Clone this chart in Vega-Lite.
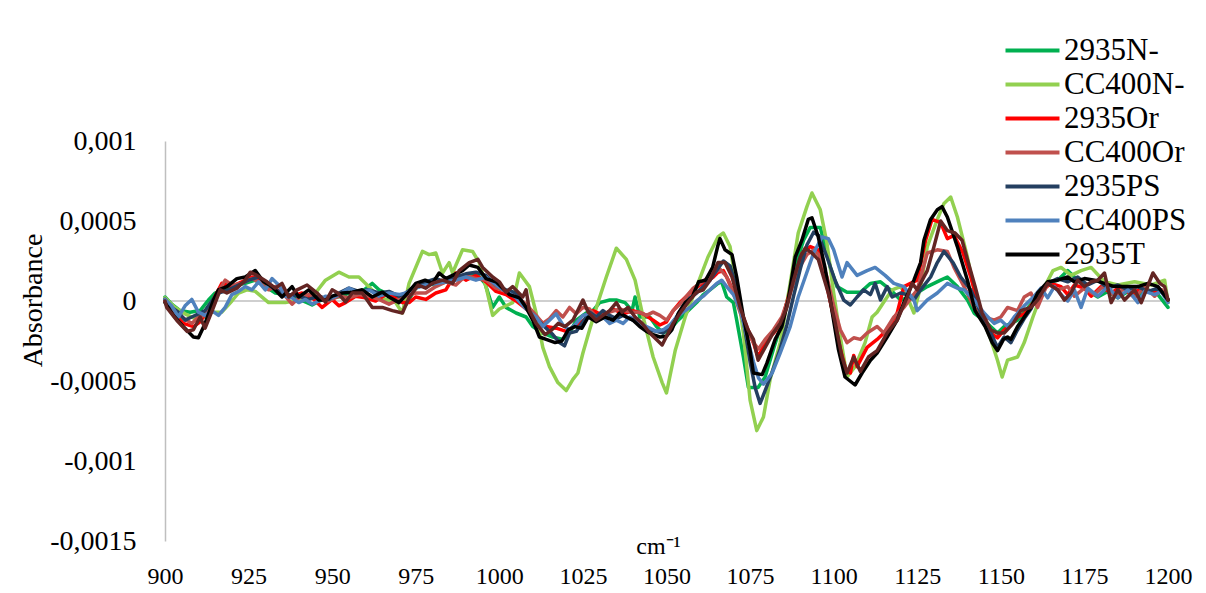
{
"$schema":"https://vega.github.io/schema/vega-lite/v6.json",
"width":1003,"height":400,
"autosize":{"type":"none"},
"padding":{"left":165,"top":141,"right":38,"bottom":52},
"background":"white",
"config":{"view":{"stroke":null},"font":"Liberation Serif"},
"layer":[
{"data":{"values":[{"y":0}]},"mark":{"type":"rule","color":"#bfbfbf","strokeWidth":1.5},"encoding":{"y":{"field":"y","type":"quantitative","scale":{"domain":[-0.0015,0.001]}}}},
{"data":{"values":[
{"x":900,"s":"2935N-","y":0.25e-4},{"x":902,"s":"2935N-","y":-0.2e-4},{"x":904.5,"s":"2935N-","y":-0.6e-4},{"x":907.5,"s":"2935N-","y":-0.7e-4},{"x":910.5,"s":"2935N-","y":-0.6e-4},{"x":913,"s":"2935N-","y":0.06e-4},{"x":915,"s":"2935N-","y":0.5e-4},{"x":918,"s":"2935N-","y":0.8e-4},{"x":921,"s":"2935N-","y":1.0e-4},{"x":924,"s":"2935N-","y":1.1e-4},{"x":927,"s":"2935N-","y":1.3e-4},{"x":930,"s":"2935N-","y":0.9e-4},{"x":933,"s":"2935N-","y":0.5e-4},{"x":936,"s":"2935N-","y":0.4e-4},{"x":939,"s":"2935N-","y":0.2e-4},{"x":942.5,"s":"2935N-","y":-0.1e-4},{"x":944,"s":"2935N-","y":-0.25e-4},{"x":947,"s":"2935N-","y":0.1e-4},{"x":950,"s":"2935N-","y":0.2e-4},{"x":953,"s":"2935N-","y":0.3e-4},{"x":956,"s":"2935N-","y":0.6e-4},{"x":959,"s":"2935N-","y":0.6e-4},{"x":962,"s":"2935N-","y":1.1e-4},{"x":964,"s":"2935N-","y":0.7e-4},{"x":967,"s":"2935N-","y":0.4e-4},{"x":970,"s":"2935N-","y":0.1e-4},{"x":972,"s":"2935N-","y":-0.25e-4},{"x":975,"s":"2935N-","y":0.8e-4},{"x":978,"s":"2935N-","y":1.1e-4},{"x":981,"s":"2935N-","y":1.0e-4},{"x":984,"s":"2935N-","y":1.2e-4},{"x":987,"s":"2935N-","y":1.5e-4},{"x":990,"s":"2935N-","y":1.6e-4},{"x":993,"s":"2935N-","y":1.75e-4},{"x":995.7,"s":"2935N-","y":1.1e-4},{"x":998,"s":"2935N-","y":-0.4e-4},{"x":1000,"s":"2935N-","y":0.25e-4},{"x":1002,"s":"2935N-","y":-0.4e-4},{"x":1005,"s":"2935N-","y":-0.75e-4},{"x":1008,"s":"2935N-","y":-1.0e-4},{"x":1010,"s":"2935N-","y":-1.6e-4},{"x":1013,"s":"2935N-","y":-2.0e-4},{"x":1016,"s":"2935N-","y":-2.25e-4},{"x":1019,"s":"2935N-","y":-2.4e-4},{"x":1021,"s":"2935N-","y":-2.0e-4},{"x":1023,"s":"2935N-","y":-1.2e-4},{"x":1026,"s":"2935N-","y":-0.75e-4},{"x":1028,"s":"2935N-","y":-0.6e-4},{"x":1030,"s":"2935N-","y":-0.1e-4},{"x":1033,"s":"2935N-","y":0.06e-4},{"x":1035,"s":"2935N-","y":0.06e-4},{"x":1037.6,"s":"2935N-","y":-0.1e-4},{"x":1039.7,"s":"2935N-","y":-0.6e-4},{"x":1040.6,"s":"2935N-","y":0.25e-4},{"x":1042,"s":"2935N-","y":-1.0e-4},{"x":1045,"s":"2935N-","y":-1.0e-4},{"x":1047,"s":"2935N-","y":-1.6e-4},{"x":1049,"s":"2935N-","y":-2.0e-4},{"x":1051,"s":"2935N-","y":-1.8e-4},{"x":1053,"s":"2935N-","y":-1.3e-4},{"x":1055,"s":"2935N-","y":-0.9e-4},{"x":1057,"s":"2935N-","y":-0.5e-4},{"x":1059,"s":"2935N-","y":-0.1e-4},{"x":1061,"s":"2935N-","y":0.4e-4},{"x":1063,"s":"2935N-","y":0.7e-4},{"x":1065.4,"s":"2935N-","y":1.1e-4},{"x":1066.5,"s":"2935N-","y":1.2e-4},{"x":1068,"s":"2935N-","y":0.25e-4},{"x":1070,"s":"2935N-","y":-0.1e-4},{"x":1071,"s":"2935N-","y":-1.2e-4},{"x":1073,"s":"2935N-","y":-3.5e-4},{"x":1074.5,"s":"2935N-","y":-5.4e-4},{"x":1077.4,"s":"2935N-","y":-5.4e-4},{"x":1079.5,"s":"2935N-","y":-4.75e-4},{"x":1082,"s":"2935N-","y":-3.0e-4},{"x":1085,"s":"2935N-","y":-1.0e-4},{"x":1087,"s":"2935N-","y":0.8e-4},{"x":1089,"s":"2935N-","y":2.5e-4},{"x":1091,"s":"2935N-","y":3.8e-4},{"x":1093,"s":"2935N-","y":4.6e-4},{"x":1096,"s":"2935N-","y":4.6e-4},{"x":1099,"s":"2935N-","y":2.1e-4},{"x":1101,"s":"2935N-","y":0.9e-4},{"x":1104,"s":"2935N-","y":0.55e-4},{"x":1108,"s":"2935N-","y":0.55e-4},{"x":1111,"s":"2935N-","y":1.1e-4},{"x":1114,"s":"2935N-","y":1.2e-4},{"x":1117,"s":"2935N-","y":0.7e-4},{"x":1120,"s":"2935N-","y":0.06e-4},{"x":1123,"s":"2935N-","y":0.25e-4},{"x":1128,"s":"2935N-","y":0.9e-4},{"x":1132,"s":"2935N-","y":1.3e-4},{"x":1134,"s":"2935N-","y":1.5e-4},{"x":1137,"s":"2935N-","y":0.9e-4},{"x":1140,"s":"2935N-","y":0.06e-4},{"x":1142,"s":"2935N-","y":-0.75e-4},{"x":1146,"s":"2935N-","y":-1.4e-4},{"x":1149,"s":"2935N-","y":-2.0e-4},{"x":1151,"s":"2935N-","y":-1.6e-4},{"x":1155,"s":"2935N-","y":-1.2e-4},{"x":1160,"s":"2935N-","y":0.06e-4},{"x":1164,"s":"2935N-","y":1.1e-4},{"x":1167,"s":"2935N-","y":1.3e-4},{"x":1170,"s":"2935N-","y":1.9e-4},{"x":1173,"s":"2935N-","y":1.3e-4},{"x":1177,"s":"2935N-","y":0.5e-4},{"x":1179,"s":"2935N-","y":0.25e-4},{"x":1182,"s":"2935N-","y":0.6e-4},{"x":1185,"s":"2935N-","y":0.2e-4},{"x":1188,"s":"2935N-","y":0.6e-4},{"x":1191,"s":"2935N-","y":0.3e-4},{"x":1194,"s":"2935N-","y":0.7e-4},{"x":1197,"s":"2935N-","y":0.4e-4},{"x":1200,"s":"2935N-","y":-0.4e-4},
{"x":900,"s":"CC400N-","y":0.2e-4},{"x":903,"s":"CC400N-","y":-0.4e-4},{"x":906,"s":"CC400N-","y":-0.8e-4},{"x":909,"s":"CC400N-","y":-1.1e-4},{"x":912,"s":"CC400N-","y":-1.0e-4},{"x":914,"s":"CC400N-","y":-0.7e-4},{"x":917,"s":"CC400N-","y":-0.7e-4},{"x":920,"s":"CC400N-","y":0.0e-4},{"x":922,"s":"CC400N-","y":0.5e-4},{"x":924.5,"s":"CC400N-","y":0.7e-4},{"x":927,"s":"CC400N-","y":0.6e-4},{"x":931,"s":"CC400N-","y":-0.1e-4},{"x":936,"s":"CC400N-","y":-0.1e-4},{"x":940,"s":"CC400N-","y":0.06e-4},{"x":945,"s":"CC400N-","y":0.5e-4},{"x":948,"s":"CC400N-","y":1.3e-4},{"x":952,"s":"CC400N-","y":1.8e-4},{"x":955,"s":"CC400N-","y":1.5e-4},{"x":958,"s":"CC400N-","y":1.5e-4},{"x":960,"s":"CC400N-","y":1.1e-4},{"x":964,"s":"CC400N-","y":0.25e-4},{"x":969,"s":"CC400N-","y":-0.1e-4},{"x":971,"s":"CC400N-","y":-0.75e-4},{"x":973,"s":"CC400N-","y":1.1e-4},{"x":977,"s":"CC400N-","y":3.1e-4},{"x":979,"s":"CC400N-","y":2.9e-4},{"x":981,"s":"CC400N-","y":3.0e-4},{"x":983,"s":"CC400N-","y":1.75e-4},{"x":985,"s":"CC400N-","y":2.4e-4},{"x":986,"s":"CC400N-","y":1.75e-4},{"x":989,"s":"CC400N-","y":3.2e-4},{"x":992,"s":"CC400N-","y":3.1e-4},{"x":994,"s":"CC400N-","y":2.4e-4},{"x":996,"s":"CC400N-","y":0.9e-4},{"x":998,"s":"CC400N-","y":-0.9e-4},{"x":1000,"s":"CC400N-","y":-0.5e-4},{"x":1004,"s":"CC400N-","y":-0.1e-4},{"x":1006,"s":"CC400N-","y":1.75e-4},{"x":1009,"s":"CC400N-","y":0.9e-4},{"x":1011,"s":"CC400N-","y":-0.75e-4},{"x":1013,"s":"CC400N-","y":-2.9e-4},{"x":1015,"s":"CC400N-","y":-4.1e-4},{"x":1017.5,"s":"CC400N-","y":-5.1e-4},{"x":1020,"s":"CC400N-","y":-5.6e-4},{"x":1022,"s":"CC400N-","y":-4.9e-4},{"x":1023.5,"s":"CC400N-","y":-4.5e-4},{"x":1025,"s":"CC400N-","y":-3.25e-4},{"x":1027,"s":"CC400N-","y":-1.8e-4},{"x":1029.5,"s":"CC400N-","y":-0.1e-4},{"x":1032,"s":"CC400N-","y":1.5e-4},{"x":1035,"s":"CC400N-","y":3.3e-4},{"x":1038,"s":"CC400N-","y":2.6e-4},{"x":1040.6,"s":"CC400N-","y":1.3e-4},{"x":1043,"s":"CC400N-","y":-1.0e-4},{"x":1046,"s":"CC400N-","y":-3.5e-4},{"x":1048.7,"s":"CC400N-","y":-5.1e-4},{"x":1050,"s":"CC400N-","y":-5.75e-4},{"x":1052.6,"s":"CC400N-","y":-3.1e-4},{"x":1055.6,"s":"CC400N-","y":-1.0e-4},{"x":1059.4,"s":"CC400N-","y":1.1e-4},{"x":1062.4,"s":"CC400N-","y":2.75e-4},{"x":1065.4,"s":"CC400N-","y":4.0e-4},{"x":1067,"s":"CC400N-","y":4.25e-4},{"x":1069,"s":"CC400N-","y":3.4e-4},{"x":1071,"s":"CC400N-","y":0.9e-4},{"x":1073,"s":"CC400N-","y":-2.0e-4},{"x":1075,"s":"CC400N-","y":-6.2e-4},{"x":1077,"s":"CC400N-","y":-8.1e-4},{"x":1079,"s":"CC400N-","y":-7.25e-4},{"x":1081,"s":"CC400N-","y":-4.9e-4},{"x":1084,"s":"CC400N-","y":-2.6e-4},{"x":1087,"s":"CC400N-","y":1.1e-4},{"x":1089.4,"s":"CC400N-","y":4.25e-4},{"x":1092,"s":"CC400N-","y":5.9e-4},{"x":1093.5,"s":"CC400N-","y":6.75e-4},{"x":1096,"s":"CC400N-","y":5.7e-4},{"x":1098,"s":"CC400N-","y":3.6e-4},{"x":1100,"s":"CC400N-","y":0.5e-4},{"x":1102,"s":"CC400N-","y":-2.25e-4},{"x":1104,"s":"CC400N-","y":-4.75e-4},{"x":1106.4,"s":"CC400N-","y":-4.1e-4},{"x":1109.4,"s":"CC400N-","y":-2.6e-4},{"x":1111.5,"s":"CC400N-","y":-1.0e-4},{"x":1113,"s":"CC400N-","y":-0.7e-4},{"x":1115.4,"s":"CC400N-","y":0.06e-4},{"x":1117.5,"s":"CC400N-","y":0.7e-4},{"x":1120,"s":"CC400N-","y":0.9e-4},{"x":1122,"s":"CC400N-","y":0.25e-4},{"x":1124,"s":"CC400N-","y":-0.75e-4},{"x":1126,"s":"CC400N-","y":0.9e-4},{"x":1128,"s":"CC400N-","y":3.4e-4},{"x":1131,"s":"CC400N-","y":5.1e-4},{"x":1133,"s":"CC400N-","y":6.1e-4},{"x":1135,"s":"CC400N-","y":6.5e-4},{"x":1137,"s":"CC400N-","y":5.25e-4},{"x":1140,"s":"CC400N-","y":2.75e-4},{"x":1142,"s":"CC400N-","y":0.7e-4},{"x":1144.4,"s":"CC400N-","y":-1.0e-4},{"x":1147,"s":"CC400N-","y":-2.4e-4},{"x":1149,"s":"CC400N-","y":-3.7e-4},{"x":1150.4,"s":"CC400N-","y":-4.75e-4},{"x":1152,"s":"CC400N-","y":-3.7e-4},{"x":1155,"s":"CC400N-","y":-3.5e-4},{"x":1157,"s":"CC400N-","y":-2.6e-4},{"x":1159.6,"s":"CC400N-","y":-1.0e-4},{"x":1162.6,"s":"CC400N-","y":0.7e-4},{"x":1165.6,"s":"CC400N-","y":1.9e-4},{"x":1168,"s":"CC400N-","y":2.1e-4},{"x":1171,"s":"CC400N-","y":1.6e-4},{"x":1174,"s":"CC400N-","y":1.9e-4},{"x":1177,"s":"CC400N-","y":2.1e-4},{"x":1181,"s":"CC400N-","y":1.2e-4},{"x":1185,"s":"CC400N-","y":1.0e-4},{"x":1190,"s":"CC400N-","y":1.2e-4},{"x":1195,"s":"CC400N-","y":1.0e-4},{"x":1199,"s":"CC400N-","y":1.3e-4},{"x":1200,"s":"CC400N-","y":-0.1e-4},
{"x":900,"s":"2935Or","y":0.0e-4},{"x":902,"s":"2935Or","y":-0.6e-4},{"x":905.5,"s":"2935Or","y":-1.4e-4},{"x":908.5,"s":"2935Or","y":-1.6e-4},{"x":910.5,"s":"2935Or","y":-1.3e-4},{"x":913,"s":"2935Or","y":-0.5e-4},{"x":915,"s":"2935Or","y":0.3e-4},{"x":917,"s":"2935Or","y":1.1e-4},{"x":920,"s":"2935Or","y":0.9e-4},{"x":923,"s":"2935Or","y":1.2e-4},{"x":926,"s":"2935Or","y":1.5e-4},{"x":929,"s":"2935Or","y":1.3e-4},{"x":932,"s":"2935Or","y":0.9e-4},{"x":935,"s":"2935Or","y":0.5e-4},{"x":938,"s":"2935Or","y":0.3e-4},{"x":941,"s":"2935Or","y":0.5e-4},{"x":944,"s":"2935Or","y":0.2e-4},{"x":947,"s":"2935Or","y":-0.4e-4},{"x":950,"s":"2935Or","y":0.1e-4},{"x":952,"s":"2935Or","y":-0.3e-4},{"x":954,"s":"2935Or","y":-0.1e-4},{"x":957,"s":"2935Or","y":0.3e-4},{"x":960,"s":"2935Or","y":0.2e-4},{"x":963,"s":"2935Or","y":0.0e-4},{"x":966,"s":"2935Or","y":0.4e-4},{"x":968,"s":"2935Or","y":0.3e-4},{"x":971,"s":"2935Or","y":-0.1e-4},{"x":973,"s":"2935Or","y":-0.1e-4},{"x":975,"s":"2935Or","y":0.25e-4},{"x":978,"s":"2935Or","y":0.1e-4},{"x":981,"s":"2935Or","y":0.5e-4},{"x":984,"s":"2935Or","y":0.7e-4},{"x":987,"s":"2935Or","y":1.75e-4},{"x":990,"s":"2935Or","y":1.3e-4},{"x":993,"s":"2935Or","y":1.6e-4},{"x":996,"s":"2935Or","y":1.2e-4},{"x":999,"s":"2935Or","y":0.6e-4},{"x":1002,"s":"2935Or","y":0.4e-4},{"x":1005,"s":"2935Or","y":0.0e-4},{"x":1008,"s":"2935Or","y":-0.5e-4},{"x":1011,"s":"2935Or","y":-1.0e-4},{"x":1014,"s":"2935Or","y":-1.6e-4},{"x":1017,"s":"2935Or","y":-1.7e-4},{"x":1020,"s":"2935Or","y":-1.9e-4},{"x":1023,"s":"2935Or","y":-1.5e-4},{"x":1026,"s":"2935Or","y":-1.1e-4},{"x":1028,"s":"2935Or","y":-0.6e-4},{"x":1031,"s":"2935Or","y":-0.9e-4},{"x":1034,"s":"2935Or","y":-0.5e-4},{"x":1037,"s":"2935Or","y":-0.8e-4},{"x":1040,"s":"2935Or","y":-0.6e-4},{"x":1043,"s":"2935Or","y":-0.8e-4},{"x":1046,"s":"2935Or","y":-1.2e-4},{"x":1048,"s":"2935Or","y":-1.5e-4},{"x":1050,"s":"2935Or","y":-1.3e-4},{"x":1052,"s":"2935Or","y":-0.6e-4},{"x":1054,"s":"2935Or","y":-0.1e-4},{"x":1056,"s":"2935Or","y":0.3e-4},{"x":1058,"s":"2935Or","y":0.7e-4},{"x":1060,"s":"2935Or","y":1.0e-4},{"x":1062,"s":"2935Or","y":1.2e-4},{"x":1064,"s":"2935Or","y":1.5e-4},{"x":1065.4,"s":"2935Or","y":1.8e-4},{"x":1067,"s":"2935Or","y":1.9e-4},{"x":1068.5,"s":"2935Or","y":1.3e-4},{"x":1071,"s":"2935Or","y":0.06e-4},{"x":1074,"s":"2935Or","y":-1.6e-4},{"x":1076,"s":"2935Or","y":-2.6e-4},{"x":1077.4,"s":"2935Or","y":-3.5e-4},{"x":1079.5,"s":"2935Or","y":-2.6e-4},{"x":1082.5,"s":"2935Or","y":-1.9e-4},{"x":1084.5,"s":"2935Or","y":-1.2e-4},{"x":1087.6,"s":"2935Or","y":1.1e-4},{"x":1090.6,"s":"2935Or","y":3.0e-4},{"x":1093,"s":"2935Or","y":3.4e-4},{"x":1095.4,"s":"2935Or","y":3.2e-4},{"x":1098,"s":"2935Or","y":0.9e-4},{"x":1100,"s":"2935Or","y":-1.0e-4},{"x":1102,"s":"2935Or","y":-3.0e-4},{"x":1103.5,"s":"2935Or","y":-4.2e-4},{"x":1105,"s":"2935Or","y":-4.5e-4},{"x":1106,"s":"2935Or","y":-3.4e-4},{"x":1107,"s":"2935Or","y":-4.1e-4},{"x":1110,"s":"2935Or","y":-2.9e-4},{"x":1113,"s":"2935Or","y":-2.4e-4},{"x":1116,"s":"2935Or","y":-1.8e-4},{"x":1119,"s":"2935Or","y":-0.75e-4},{"x":1121,"s":"2935Or","y":0.9e-4},{"x":1125,"s":"2935Or","y":1.3e-4},{"x":1127.5,"s":"2935Or","y":3.8e-4},{"x":1129.4,"s":"2935Or","y":5.1e-4},{"x":1132,"s":"2935Or","y":4.9e-4},{"x":1134,"s":"2935Or","y":3.9e-4},{"x":1136,"s":"2935Or","y":4.1e-4},{"x":1138.7,"s":"2935Or","y":3.0e-4},{"x":1141,"s":"2935Or","y":1.5e-4},{"x":1143,"s":"2935Or","y":0.0e-4},{"x":1145,"s":"2935Or","y":-1.2e-4},{"x":1147,"s":"2935Or","y":-2.0e-4},{"x":1149,"s":"2935Or","y":-2.3e-4},{"x":1151,"s":"2935Or","y":-1.8e-4},{"x":1153,"s":"2935Or","y":-1.5e-4},{"x":1155,"s":"2935Or","y":-1.0e-4},{"x":1157,"s":"2935Or","y":-0.8e-4},{"x":1159,"s":"2935Or","y":-0.3e-4},{"x":1162,"s":"2935Or","y":0.6e-4},{"x":1165,"s":"2935Or","y":1.1e-4},{"x":1168,"s":"2935Or","y":0.9e-4},{"x":1170,"s":"2935Or","y":0.4e-4},{"x":1172,"s":"2935Or","y":1.0e-4},{"x":1175,"s":"2935Or","y":0.8e-4},{"x":1177,"s":"2935Or","y":0.3e-4},{"x":1180,"s":"2935Or","y":0.9e-4},{"x":1183,"s":"2935Or","y":0.5e-4},{"x":1186,"s":"2935Or","y":0.9e-4},{"x":1189,"s":"2935Or","y":0.4e-4},{"x":1192,"s":"2935Or","y":0.8e-4},{"x":1195,"s":"2935Or","y":0.5e-4},{"x":1198,"s":"2935Or","y":0.7e-4},{"x":1200,"s":"2935Or","y":0.1e-4},
{"x":900,"s":"CC400Or","y":0.1e-4},{"x":902,"s":"CC400Or","y":-0.5e-4},{"x":905,"s":"CC400Or","y":-1.0e-4},{"x":908,"s":"CC400Or","y":-1.4e-4},{"x":910,"s":"CC400Or","y":-1.0e-4},{"x":912,"s":"CC400Or","y":-0.9e-4},{"x":914,"s":"CC400Or","y":-0.2e-4},{"x":916,"s":"CC400Or","y":0.6e-4},{"x":918,"s":"CC400Or","y":1.3e-4},{"x":920,"s":"CC400Or","y":1.0e-4},{"x":923,"s":"CC400Or","y":1.1e-4},{"x":926,"s":"CC400Or","y":1.4e-4},{"x":928,"s":"CC400Or","y":1.2e-4},{"x":931,"s":"CC400Or","y":0.7e-4},{"x":934,"s":"CC400Or","y":1.0e-4},{"x":936,"s":"CC400Or","y":0.3e-4},{"x":938,"s":"CC400Or","y":-0.2e-4},{"x":940,"s":"CC400Or","y":0.2e-4},{"x":943,"s":"CC400Or","y":0.4e-4},{"x":946,"s":"CC400Or","y":0.2e-4},{"x":949,"s":"CC400Or","y":0.0e-4},{"x":952,"s":"CC400Or","y":0.3e-4},{"x":955,"s":"CC400Or","y":0.2e-4},{"x":958,"s":"CC400Or","y":0.4e-4},{"x":961,"s":"CC400Or","y":0.3e-4},{"x":964,"s":"CC400Or","y":0.1e-4},{"x":967,"s":"CC400Or","y":-0.2e-4},{"x":970,"s":"CC400Or","y":0.1e-4},{"x":972,"s":"CC400Or","y":0.3e-4},{"x":975,"s":"CC400Or","y":0.5e-4},{"x":978,"s":"CC400Or","y":0.5e-4},{"x":981,"s":"CC400Or","y":0.9e-4},{"x":984,"s":"CC400Or","y":1.2e-4},{"x":987,"s":"CC400Or","y":1.0e-4},{"x":990,"s":"CC400Or","y":1.6e-4},{"x":993,"s":"CC400Or","y":1.4e-4},{"x":996,"s":"CC400Or","y":1.3e-4},{"x":999,"s":"CC400Or","y":0.8e-4},{"x":1002,"s":"CC400Or","y":0.6e-4},{"x":1005,"s":"CC400Or","y":0.3e-4},{"x":1008,"s":"CC400Or","y":-0.2e-4},{"x":1011,"s":"CC400Or","y":-0.9e-4},{"x":1013,"s":"CC400Or","y":-1.4e-4},{"x":1015,"s":"CC400Or","y":-1.1e-4},{"x":1017,"s":"CC400Or","y":-0.6e-4},{"x":1019,"s":"CC400Or","y":-1.0e-4},{"x":1021,"s":"CC400Or","y":-0.4e-4},{"x":1023,"s":"CC400Or","y":-0.8e-4},{"x":1025,"s":"CC400Or","y":-0.4e-4},{"x":1027,"s":"CC400Or","y":-0.5e-4},{"x":1029,"s":"CC400Or","y":-1.0e-4},{"x":1031,"s":"CC400Or","y":-0.9e-4},{"x":1033,"s":"CC400Or","y":-0.7e-4},{"x":1036,"s":"CC400Or","y":-0.5e-4},{"x":1039,"s":"CC400Or","y":-0.7e-4},{"x":1042,"s":"CC400Or","y":-0.7e-4},{"x":1044,"s":"CC400Or","y":-0.9e-4},{"x":1046,"s":"CC400Or","y":-0.7e-4},{"x":1048,"s":"CC400Or","y":-0.9e-4},{"x":1050,"s":"CC400Or","y":-1.2e-4},{"x":1052,"s":"CC400Or","y":-0.6e-4},{"x":1054,"s":"CC400Or","y":-0.2e-4},{"x":1056,"s":"CC400Or","y":0.3e-4},{"x":1058,"s":"CC400Or","y":0.8e-4},{"x":1060,"s":"CC400Or","y":1.1e-4},{"x":1062,"s":"CC400Or","y":1.4e-4},{"x":1064,"s":"CC400Or","y":1.7e-4},{"x":1066,"s":"CC400Or","y":2.0e-4},{"x":1068,"s":"CC400Or","y":1.5e-4},{"x":1070,"s":"CC400Or","y":0.5e-4},{"x":1072,"s":"CC400Or","y":-0.7e-4},{"x":1074,"s":"CC400Or","y":-1.8e-4},{"x":1076,"s":"CC400Or","y":-2.6e-4},{"x":1077.5,"s":"CC400Or","y":-3.0e-4},{"x":1079.5,"s":"CC400Or","y":-2.4e-4},{"x":1082,"s":"CC400Or","y":-1.8e-4},{"x":1084.5,"s":"CC400Or","y":-1.0e-4},{"x":1087,"s":"CC400Or","y":0.5e-4},{"x":1089.5,"s":"CC400Or","y":2.0e-4},{"x":1092,"s":"CC400Or","y":2.9e-4},{"x":1094,"s":"CC400Or","y":3.2e-4},{"x":1096,"s":"CC400Or","y":2.8e-4},{"x":1098,"s":"CC400Or","y":1.5e-4},{"x":1100,"s":"CC400Or","y":-0.3e-4},{"x":1102,"s":"CC400Or","y":-1.8e-4},{"x":1104,"s":"CC400Or","y":-2.6e-4},{"x":1106,"s":"CC400Or","y":-2.3e-4},{"x":1108,"s":"CC400Or","y":-2.4e-4},{"x":1110,"s":"CC400Or","y":-2.0e-4},{"x":1113,"s":"CC400Or","y":-1.6e-4},{"x":1115,"s":"CC400Or","y":-2.0e-4},{"x":1118,"s":"CC400Or","y":-1.0e-4},{"x":1121,"s":"CC400Or","y":-0.4e-4},{"x":1125,"s":"CC400Or","y":0.7e-4},{"x":1128,"s":"CC400Or","y":3.0e-4},{"x":1131,"s":"CC400Or","y":3.2e-4},{"x":1134,"s":"CC400Or","y":3.1e-4},{"x":1136,"s":"CC400Or","y":2.1e-4},{"x":1139,"s":"CC400Or","y":0.9e-4},{"x":1142,"s":"CC400Or","y":-0.4e-4},{"x":1145,"s":"CC400Or","y":-1.0e-4},{"x":1148,"s":"CC400Or","y":-1.2e-4},{"x":1150,"s":"CC400Or","y":-1.0e-4},{"x":1152,"s":"CC400Or","y":-0.4e-4},{"x":1155,"s":"CC400Or","y":-0.6e-4},{"x":1157,"s":"CC400Or","y":0.25e-4},{"x":1159,"s":"CC400Or","y":0.5e-4},{"x":1161,"s":"CC400Or","y":-0.4e-4},{"x":1164,"s":"CC400Or","y":1.1e-4},{"x":1167,"s":"CC400Or","y":0.7e-4},{"x":1170,"s":"CC400Or","y":0.9e-4},{"x":1172,"s":"CC400Or","y":0.3e-4},{"x":1175,"s":"CC400Or","y":0.8e-4},{"x":1178,"s":"CC400Or","y":0.4e-4},{"x":1181,"s":"CC400Or","y":1.0e-4},{"x":1184,"s":"CC400Or","y":0.3e-4},{"x":1187,"s":"CC400Or","y":0.8e-4},{"x":1190,"s":"CC400Or","y":0.2e-4},{"x":1193,"s":"CC400Or","y":0.9e-4},{"x":1196,"s":"CC400Or","y":0.3e-4},{"x":1198,"s":"CC400Or","y":0.7e-4},{"x":1200,"s":"CC400Or","y":0.1e-4},
{"x":900,"s":"2935PS","y":0.1e-4},{"x":902,"s":"2935PS","y":-0.4e-4},{"x":904,"s":"2935PS","y":-0.7e-4},{"x":906,"s":"2935PS","y":-1.2e-4},{"x":908,"s":"2935PS","y":-1.0e-4},{"x":910,"s":"2935PS","y":-0.8e-4},{"x":912,"s":"2935PS","y":-0.6e-4},{"x":914,"s":"2935PS","y":0.0e-4},{"x":916,"s":"2935PS","y":0.5e-4},{"x":919,"s":"2935PS","y":0.7e-4},{"x":922,"s":"2935PS","y":1.0e-4},{"x":925,"s":"2935PS","y":1.3e-4},{"x":928,"s":"2935PS","y":1.5e-4},{"x":931,"s":"2935PS","y":1.0e-4},{"x":934,"s":"2935PS","y":0.6e-4},{"x":937,"s":"2935PS","y":0.4e-4},{"x":940,"s":"2935PS","y":0.3e-4},{"x":943,"s":"2935PS","y":0.1e-4},{"x":946,"s":"2935PS","y":0.3e-4},{"x":949,"s":"2935PS","y":0.1e-4},{"x":952,"s":"2935PS","y":0.5e-4},{"x":955,"s":"2935PS","y":0.8e-4},{"x":958,"s":"2935PS","y":0.6e-4},{"x":961,"s":"2935PS","y":0.7e-4},{"x":964,"s":"2935PS","y":0.5e-4},{"x":967,"s":"2935PS","y":0.6e-4},{"x":970,"s":"2935PS","y":0.3e-4},{"x":972,"s":"2935PS","y":0.5e-4},{"x":975,"s":"2935PS","y":1.0e-4},{"x":978,"s":"2935PS","y":1.2e-4},{"x":981,"s":"2935PS","y":1.4e-4},{"x":984,"s":"2935PS","y":1.2e-4},{"x":987,"s":"2935PS","y":1.5e-4},{"x":990,"s":"2935PS","y":1.7e-4},{"x":993,"s":"2935PS","y":1.8e-4},{"x":996,"s":"2935PS","y":1.6e-4},{"x":999,"s":"2935PS","y":1.0e-4},{"x":1002,"s":"2935PS","y":0.7e-4},{"x":1005,"s":"2935PS","y":0.5e-4},{"x":1008,"s":"2935PS","y":-0.4e-4},{"x":1011,"s":"2935PS","y":-1.1e-4},{"x":1014,"s":"2935PS","y":-1.7e-4},{"x":1016,"s":"2935PS","y":-2.1e-4},{"x":1018,"s":"2935PS","y":-2.6e-4},{"x":1019.5,"s":"2935PS","y":-2.8e-4},{"x":1021,"s":"2935PS","y":-2.0e-4},{"x":1023,"s":"2935PS","y":-1.9e-4},{"x":1025,"s":"2935PS","y":-1.3e-4},{"x":1027,"s":"2935PS","y":-0.7e-4},{"x":1029,"s":"2935PS","y":-1.0e-4},{"x":1031,"s":"2935PS","y":-0.6e-4},{"x":1033,"s":"2935PS","y":-0.9e-4},{"x":1035,"s":"2935PS","y":-1.1e-4},{"x":1037,"s":"2935PS","y":-0.9e-4},{"x":1039,"s":"2935PS","y":-1.1e-4},{"x":1041,"s":"2935PS","y":-1.3e-4},{"x":1043,"s":"2935PS","y":-1.5e-4},{"x":1045,"s":"2935PS","y":-1.8e-4},{"x":1047,"s":"2935PS","y":-1.9e-4},{"x":1049,"s":"2935PS","y":-2.0e-4},{"x":1051,"s":"2935PS","y":-1.6e-4},{"x":1053,"s":"2935PS","y":-1.0e-4},{"x":1055,"s":"2935PS","y":-0.3e-4},{"x":1057,"s":"2935PS","y":0.2e-4},{"x":1059,"s":"2935PS","y":0.5e-4},{"x":1061,"s":"2935PS","y":0.9e-4},{"x":1063,"s":"2935PS","y":1.3e-4},{"x":1065,"s":"2935PS","y":1.9e-4},{"x":1067,"s":"2935PS","y":2.5e-4},{"x":1069,"s":"2935PS","y":2.2e-4},{"x":1071,"s":"2935PS","y":0.8e-4},{"x":1073,"s":"2935PS","y":-1.2e-4},{"x":1075,"s":"2935PS","y":-3.8e-4},{"x":1076.5,"s":"2935PS","y":-5.4e-4},{"x":1078,"s":"2935PS","y":-6.4e-4},{"x":1079.5,"s":"2935PS","y":-5.6e-4},{"x":1081.5,"s":"2935PS","y":-4.5e-4},{"x":1084,"s":"2935PS","y":-3.0e-4},{"x":1086,"s":"2935PS","y":-1.5e-4},{"x":1088,"s":"2935PS","y":0.3e-4},{"x":1090,"s":"2935PS","y":2.0e-4},{"x":1092,"s":"2935PS","y":3.5e-4},{"x":1094,"s":"2935PS","y":4.3e-4},{"x":1095.5,"s":"2935PS","y":4.1e-4},{"x":1098,"s":"2935PS","y":2.75e-4},{"x":1100.4,"s":"2935PS","y":1.3e-4},{"x":1103,"s":"2935PS","y":0.06e-4},{"x":1105,"s":"2935PS","y":-0.25e-4},{"x":1107,"s":"2935PS","y":0.25e-4},{"x":1109,"s":"2935PS","y":0.7e-4},{"x":1111,"s":"2935PS","y":0.4e-4},{"x":1112.4,"s":"2935PS","y":1.1e-4},{"x":1114,"s":"2935PS","y":0.06e-4},{"x":1116,"s":"2935PS","y":0.9e-4},{"x":1117.5,"s":"2935PS","y":0.25e-4},{"x":1120,"s":"2935PS","y":0.5e-4},{"x":1122,"s":"2935PS","y":0.4e-4},{"x":1124,"s":"2935PS","y":0.06e-4},{"x":1126,"s":"2935PS","y":0.7e-4},{"x":1129,"s":"2935PS","y":1.5e-4},{"x":1131,"s":"2935PS","y":2.4e-4},{"x":1133,"s":"2935PS","y":3.1e-4},{"x":1135.7,"s":"2935PS","y":2.4e-4},{"x":1138,"s":"2935PS","y":1.5e-4},{"x":1141,"s":"2935PS","y":0.7e-4},{"x":1144,"s":"2935PS","y":-0.75e-4},{"x":1147,"s":"2935PS","y":-2.0e-4},{"x":1149,"s":"2935PS","y":-2.9e-4},{"x":1151,"s":"2935PS","y":-2.25e-4},{"x":1153,"s":"2935PS","y":-2.6e-4},{"x":1155,"s":"2935PS","y":-1.8e-4},{"x":1157,"s":"2935PS","y":-1.1e-4},{"x":1159,"s":"2935PS","y":-0.5e-4},{"x":1161,"s":"2935PS","y":0.4e-4},{"x":1164,"s":"2935PS","y":1.1e-4},{"x":1167,"s":"2935PS","y":1.4e-4},{"x":1170,"s":"2935PS","y":1.2e-4},{"x":1173,"s":"2935PS","y":1.5e-4},{"x":1176,"s":"2935PS","y":1.0e-4},{"x":1179,"s":"2935PS","y":1.3e-4},{"x":1182,"s":"2935PS","y":0.8e-4},{"x":1185,"s":"2935PS","y":1.0e-4},{"x":1188,"s":"2935PS","y":0.7e-4},{"x":1191,"s":"2935PS","y":0.9e-4},{"x":1194,"s":"2935PS","y":0.6e-4},{"x":1197,"s":"2935PS","y":0.8e-4},{"x":1200,"s":"2935PS","y":0.1e-4},
{"x":900,"s":"CC400PS","y":0.1e-4},{"x":902,"s":"CC400PS","y":-0.3e-4},{"x":904,"s":"CC400PS","y":-1.0e-4},{"x":906,"s":"CC400PS","y":-0.3e-4},{"x":908,"s":"CC400PS","y":0.1e-4},{"x":910,"s":"CC400PS","y":-0.7e-4},{"x":912,"s":"CC400PS","y":-0.9e-4},{"x":914,"s":"CC400PS","y":-0.6e-4},{"x":916,"s":"CC400PS","y":-0.9e-4},{"x":918,"s":"CC400PS","y":-0.4e-4},{"x":920,"s":"CC400PS","y":0.4e-4},{"x":922,"s":"CC400PS","y":0.6e-4},{"x":924,"s":"CC400PS","y":0.9e-4},{"x":926,"s":"CC400PS","y":0.7e-4},{"x":928,"s":"CC400PS","y":1.2e-4},{"x":930,"s":"CC400PS","y":0.7e-4},{"x":932,"s":"CC400PS","y":1.4e-4},{"x":934,"s":"CC400PS","y":1.0e-4},{"x":936,"s":"CC400PS","y":0.3e-4},{"x":938,"s":"CC400PS","y":0.2e-4},{"x":940,"s":"CC400PS","y":-0.1e-4},{"x":942,"s":"CC400PS","y":0.1e-4},{"x":944,"s":"CC400PS","y":-0.2e-4},{"x":946,"s":"CC400PS","y":0.0e-4},{"x":948,"s":"CC400PS","y":0.3e-4},{"x":950,"s":"CC400PS","y":0.2e-4},{"x":952,"s":"CC400PS","y":0.4e-4},{"x":955,"s":"CC400PS","y":0.8e-4},{"x":958,"s":"CC400PS","y":0.5e-4},{"x":961,"s":"CC400PS","y":0.7e-4},{"x":964,"s":"CC400PS","y":0.3e-4},{"x":967,"s":"CC400PS","y":0.5e-4},{"x":970,"s":"CC400PS","y":0.4e-4},{"x":972,"s":"CC400PS","y":0.5e-4},{"x":975,"s":"CC400PS","y":0.8e-4},{"x":978,"s":"CC400PS","y":1.0e-4},{"x":981,"s":"CC400PS","y":1.1e-4},{"x":984,"s":"CC400PS","y":1.2e-4},{"x":987,"s":"CC400PS","y":1.3e-4},{"x":990,"s":"CC400PS","y":1.5e-4},{"x":993,"s":"CC400PS","y":1.3e-4},{"x":996,"s":"CC400PS","y":1.5e-4},{"x":999,"s":"CC400PS","y":1.0e-4},{"x":1002,"s":"CC400PS","y":0.6e-4},{"x":1005,"s":"CC400PS","y":0.2e-4},{"x":1008,"s":"CC400PS","y":-0.5e-4},{"x":1011,"s":"CC400PS","y":-1.0e-4},{"x":1013,"s":"CC400PS","y":-1.6e-4},{"x":1015,"s":"CC400PS","y":-1.2e-4},{"x":1017,"s":"CC400PS","y":-0.8e-4},{"x":1019,"s":"CC400PS","y":-1.5e-4},{"x":1021,"s":"CC400PS","y":-1.8e-4},{"x":1023,"s":"CC400PS","y":-1.4e-4},{"x":1025,"s":"CC400PS","y":-0.9e-4},{"x":1027,"s":"CC400PS","y":-0.8e-4},{"x":1029,"s":"CC400PS","y":-1.2e-4},{"x":1031,"s":"CC400PS","y":-1.0e-4},{"x":1033,"s":"CC400PS","y":-1.4e-4},{"x":1035,"s":"CC400PS","y":-1.2e-4},{"x":1037,"s":"CC400PS","y":-1.4e-4},{"x":1039,"s":"CC400PS","y":-1.0e-4},{"x":1041,"s":"CC400PS","y":-1.2e-4},{"x":1043,"s":"CC400PS","y":-1.5e-4},{"x":1045,"s":"CC400PS","y":-1.7e-4},{"x":1047,"s":"CC400PS","y":-1.9e-4},{"x":1049,"s":"CC400PS","y":-1.8e-4},{"x":1051,"s":"CC400PS","y":-1.5e-4},{"x":1053,"s":"CC400PS","y":-1.0e-4},{"x":1055,"s":"CC400PS","y":-0.7e-4},{"x":1057,"s":"CC400PS","y":-0.4e-4},{"x":1059,"s":"CC400PS","y":0.0e-4},{"x":1061,"s":"CC400PS","y":0.3e-4},{"x":1063,"s":"CC400PS","y":0.7e-4},{"x":1065,"s":"CC400PS","y":1.1e-4},{"x":1066.5,"s":"CC400PS","y":1.3e-4},{"x":1068,"s":"CC400PS","y":0.9e-4},{"x":1070,"s":"CC400PS","y":0.4e-4},{"x":1072,"s":"CC400PS","y":-0.5e-4},{"x":1074,"s":"CC400PS","y":-2.2e-4},{"x":1076,"s":"CC400PS","y":-3.8e-4},{"x":1077.5,"s":"CC400PS","y":-4.8e-4},{"x":1079,"s":"CC400PS","y":-5.2e-4},{"x":1081.6,"s":"CC400PS","y":-4.5e-4},{"x":1084,"s":"CC400PS","y":-3.25e-4},{"x":1087,"s":"CC400PS","y":-1.6e-4},{"x":1089.4,"s":"CC400PS","y":0.25e-4},{"x":1091.5,"s":"CC400PS","y":1.5e-4},{"x":1094,"s":"CC400PS","y":3.0e-4},{"x":1096.5,"s":"CC400PS","y":4.0e-4},{"x":1098.4,"s":"CC400PS","y":3.9e-4},{"x":1100,"s":"CC400PS","y":3.2e-4},{"x":1102.5,"s":"CC400PS","y":1.5e-4},{"x":1104,"s":"CC400PS","y":2.4e-4},{"x":1107,"s":"CC400PS","y":1.6e-4},{"x":1110,"s":"CC400PS","y":1.9e-4},{"x":1112.4,"s":"CC400PS","y":2.1e-4},{"x":1115.4,"s":"CC400PS","y":1.6e-4},{"x":1118,"s":"CC400PS","y":1.1e-4},{"x":1121,"s":"CC400PS","y":0.9e-4},{"x":1124,"s":"CC400PS","y":0.06e-4},{"x":1125,"s":"CC400PS","y":-0.6e-4},{"x":1128,"s":"CC400PS","y":0.06e-4},{"x":1131,"s":"CC400PS","y":0.5e-4},{"x":1134,"s":"CC400PS","y":1.1e-4},{"x":1137,"s":"CC400PS","y":0.8e-4},{"x":1139,"s":"CC400PS","y":0.7e-4},{"x":1142,"s":"CC400PS","y":0.06e-4},{"x":1145,"s":"CC400PS","y":-0.75e-4},{"x":1148,"s":"CC400PS","y":-1.4e-4},{"x":1150,"s":"CC400PS","y":-1.2e-4},{"x":1152,"s":"CC400PS","y":-1.6e-4},{"x":1154,"s":"CC400PS","y":-1.0e-4},{"x":1157,"s":"CC400PS","y":-0.3e-4},{"x":1160,"s":"CC400PS","y":0.3e-4},{"x":1162,"s":"CC400PS","y":0.8e-4},{"x":1164,"s":"CC400PS","y":0.2e-4},{"x":1166,"s":"CC400PS","y":0.9e-4},{"x":1168,"s":"CC400PS","y":0.4e-4},{"x":1170,"s":"CC400PS","y":0.0e-4},{"x":1172,"s":"CC400PS","y":0.7e-4},{"x":1174,"s":"CC400PS","y":-0.4e-4},{"x":1176,"s":"CC400PS","y":0.8e-4},{"x":1179,"s":"CC400PS","y":0.3e-4},{"x":1182,"s":"CC400PS","y":0.9e-4},{"x":1185,"s":"CC400PS","y":0.2e-4},{"x":1188,"s":"CC400PS","y":0.7e-4},{"x":1191,"s":"CC400PS","y":-0.1e-4},{"x":1193,"s":"CC400PS","y":0.6e-4},{"x":1196,"s":"CC400PS","y":0.4e-4},{"x":1198,"s":"CC400PS","y":0.6e-4},{"x":1200,"s":"CC400PS","y":-0.1e-4},
{"x":900,"s":"2935T","y":-0.1e-4},{"x":902.5,"s":"2935T","y":-0.9e-4},{"x":905.5,"s":"2935T","y":-1.6e-4},{"x":908.5,"s":"2935T","y":-2.25e-4},{"x":910,"s":"2935T","y":-2.3e-4},{"x":912,"s":"2935T","y":-1.4e-4},{"x":914.5,"s":"2935T","y":0.06e-4},{"x":916,"s":"2935T","y":0.7e-4},{"x":918.5,"s":"2935T","y":0.9e-4},{"x":921.5,"s":"2935T","y":1.4e-4},{"x":924,"s":"2935T","y":1.5e-4},{"x":927,"s":"2935T","y":1.9e-4},{"x":929.5,"s":"2935T","y":1.2e-4},{"x":932,"s":"2935T","y":0.9e-4},{"x":935,"s":"2935T","y":0.25e-4},{"x":938,"s":"2935T","y":0.9e-4},{"x":940,"s":"2935T","y":0.25e-4},{"x":943,"s":"2935T","y":0.7e-4},{"x":946,"s":"2935T","y":0.06e-4},{"x":948,"s":"2935T","y":0.06e-4},{"x":950,"s":"2935T","y":0.3e-4},{"x":953,"s":"2935T","y":0.5e-4},{"x":956,"s":"2935T","y":0.55e-4},{"x":959,"s":"2935T","y":0.7e-4},{"x":962,"s":"2935T","y":0.25e-4},{"x":965,"s":"2935T","y":0.55e-4},{"x":967,"s":"2935T","y":0.25e-4},{"x":970,"s":"2935T","y":-0.1e-4},{"x":972.6,"s":"2935T","y":0.5e-4},{"x":975,"s":"2935T","y":1.1e-4},{"x":977.8,"s":"2935T","y":1.3e-4},{"x":980,"s":"2935T","y":1.1e-4},{"x":982,"s":"2935T","y":1.75e-4},{"x":984,"s":"2935T","y":1.4e-4},{"x":986,"s":"2935T","y":1.6e-4},{"x":989,"s":"2935T","y":1.9e-4},{"x":991,"s":"2935T","y":2.25e-4},{"x":993.6,"s":"2935T","y":2.1e-4},{"x":996,"s":"2935T","y":1.4e-4},{"x":999,"s":"2935T","y":1.2e-4},{"x":1001,"s":"2935T","y":0.8e-4},{"x":1003,"s":"2935T","y":0.4e-4},{"x":1006,"s":"2935T","y":0.2e-4},{"x":1008,"s":"2935T","y":-0.4e-4},{"x":1010,"s":"2935T","y":-1.2e-4},{"x":1012,"s":"2935T","y":-2.25e-4},{"x":1014,"s":"2935T","y":-2.4e-4},{"x":1016.7,"s":"2935T","y":-2.6e-4},{"x":1018.7,"s":"2935T","y":-2.5e-4},{"x":1020.6,"s":"2935T","y":-1.8e-4},{"x":1022.6,"s":"2935T","y":-1.6e-4},{"x":1024.7,"s":"2935T","y":-1.7e-4},{"x":1026.6,"s":"2935T","y":-1.0e-4},{"x":1029,"s":"2935T","y":-1.3e-4},{"x":1031.6,"s":"2935T","y":-1.0e-4},{"x":1034,"s":"2935T","y":-1.2e-4},{"x":1036,"s":"2935T","y":-0.75e-4},{"x":1038,"s":"2935T","y":-1.0e-4},{"x":1040,"s":"2935T","y":-1.2e-4},{"x":1042,"s":"2935T","y":-1.6e-4},{"x":1044,"s":"2935T","y":-1.9e-4},{"x":1046,"s":"2935T","y":-2.1e-4},{"x":1048,"s":"2935T","y":-2.25e-4},{"x":1050,"s":"2935T","y":-2.2e-4},{"x":1051.6,"s":"2935T","y":-1.8e-4},{"x":1053.6,"s":"2935T","y":-0.75e-4},{"x":1055.6,"s":"2935T","y":-0.1e-4},{"x":1057.7,"s":"2935T","y":0.25e-4},{"x":1059.6,"s":"2935T","y":1.2e-4},{"x":1061.7,"s":"2935T","y":1.3e-4},{"x":1063.8,"s":"2935T","y":2.1e-4},{"x":1065.3,"s":"2935T","y":3.4e-4},{"x":1066,"s":"2935T","y":3.9e-4},{"x":1067.5,"s":"2935T","y":3.2e-4},{"x":1069.6,"s":"2935T","y":2.9e-4},{"x":1071,"s":"2935T","y":1.5e-4},{"x":1073,"s":"2935T","y":-1.0e-4},{"x":1075,"s":"2935T","y":-3.1e-4},{"x":1076,"s":"2935T","y":-4.5e-4},{"x":1078.6,"s":"2935T","y":-4.6e-4},{"x":1080,"s":"2935T","y":-3.9e-4},{"x":1082.5,"s":"2935T","y":-2.4e-4},{"x":1084.5,"s":"2935T","y":-1.6e-4},{"x":1086.4,"s":"2935T","y":0.06e-4},{"x":1088.5,"s":"2935T","y":2.75e-4},{"x":1090.5,"s":"2935T","y":3.8e-4},{"x":1092.4,"s":"2935T","y":5.1e-4},{"x":1093.5,"s":"2935T","y":5.2e-4},{"x":1095.4,"s":"2935T","y":4.0e-4},{"x":1097.4,"s":"2935T","y":2.1e-4},{"x":1099.5,"s":"2935T","y":-0.6e-4},{"x":1101.4,"s":"2935T","y":-3.0e-4},{"x":1103.4,"s":"2935T","y":-4.75e-4},{"x":1106.4,"s":"2935T","y":-5.25e-4},{"x":1108.5,"s":"2935T","y":-4.5e-4},{"x":1111,"s":"2935T","y":-3.7e-4},{"x":1113,"s":"2935T","y":-3.25e-4},{"x":1116,"s":"2935T","y":-2.25e-4},{"x":1119,"s":"2935T","y":-1.2e-4},{"x":1121,"s":"2935T","y":-0.1e-4},{"x":1124,"s":"2935T","y":1.3e-4},{"x":1126,"s":"2935T","y":2.4e-4},{"x":1127,"s":"2935T","y":3.8e-4},{"x":1129,"s":"2935T","y":5.1e-4},{"x":1131,"s":"2935T","y":5.7e-4},{"x":1132.4,"s":"2935T","y":5.9e-4},{"x":1134,"s":"2935T","y":5.25e-4},{"x":1137,"s":"2935T","y":3.4e-4},{"x":1140,"s":"2935T","y":1.3e-4},{"x":1142.3,"s":"2935T","y":-0.6e-4},{"x":1145.3,"s":"2935T","y":-1.6e-4},{"x":1147.4,"s":"2935T","y":-2.6e-4},{"x":1149,"s":"2935T","y":-3.1e-4},{"x":1150.8,"s":"2935T","y":-2.4e-4},{"x":1152,"s":"2935T","y":-2.25e-4},{"x":1153,"s":"2935T","y":-2.4e-4},{"x":1155,"s":"2935T","y":-1.6e-4},{"x":1157,"s":"2935T","y":-1.0e-4},{"x":1159,"s":"2935T","y":-0.4e-4},{"x":1161,"s":"2935T","y":0.5e-4},{"x":1164,"s":"2935T","y":1.2e-4},{"x":1167,"s":"2935T","y":1.3e-4},{"x":1170,"s":"2935T","y":1.5e-4},{"x":1172,"s":"2935T","y":1.2e-4},{"x":1175,"s":"2935T","y":1.4e-4},{"x":1178,"s":"2935T","y":1.3e-4},{"x":1181,"s":"2935T","y":1.1e-4},{"x":1184,"s":"2935T","y":0.9e-4},{"x":1188,"s":"2935T","y":0.9e-4},{"x":1191,"s":"2935T","y":0.9e-4},{"x":1194,"s":"2935T","y":1.1e-4},{"x":1197,"s":"2935T","y":0.9e-4},{"x":1200,"s":"2935T","y":0.06e-4},
{"x":900,"s":"CC400T","y":0.0e-4},{"x":900.5,"s":"CC400T","y":-0.4e-4},{"x":903.5,"s":"CC400T","y":-1.2e-4},{"x":906.6,"s":"CC400T","y":-1.9e-4},{"x":908.5,"s":"CC400T","y":-1.8e-4},{"x":910.5,"s":"CC400T","y":-1.0e-4},{"x":912,"s":"CC400T","y":-1.7e-4},{"x":914.5,"s":"CC400T","y":-0.4e-4},{"x":916.5,"s":"CC400T","y":0.7e-4},{"x":918.5,"s":"CC400T","y":0.5e-4},{"x":921.5,"s":"CC400T","y":0.8e-4},{"x":924,"s":"CC400T","y":1.3e-4},{"x":925.5,"s":"CC400T","y":1.8e-4},{"x":927.5,"s":"CC400T","y":1.6e-4},{"x":930.5,"s":"CC400T","y":1.2e-4},{"x":933,"s":"CC400T","y":0.8e-4},{"x":935,"s":"CC400T","y":1.1e-4},{"x":937,"s":"CC400T","y":0.25e-4},{"x":939.5,"s":"CC400T","y":0.7e-4},{"x":942.5,"s":"CC400T","y":1.0e-4},{"x":945.5,"s":"CC400T","y":0.5e-4},{"x":948,"s":"CC400T","y":-0.06e-4},{"x":950,"s":"CC400T","y":0.7e-4},{"x":951.7,"s":"CC400T","y":0.5e-4},{"x":954,"s":"CC400T","y":-0.06e-4},{"x":956,"s":"CC400T","y":0.5e-4},{"x":959,"s":"CC400T","y":0.5e-4},{"x":962,"s":"CC400T","y":-0.4e-4},{"x":965,"s":"CC400T","y":-0.4e-4},{"x":968,"s":"CC400T","y":-0.6e-4},{"x":971,"s":"CC400T","y":-0.75e-4},{"x":973,"s":"CC400T","y":0.2e-4},{"x":975.7,"s":"CC400T","y":1.0e-4},{"x":978,"s":"CC400T","y":0.8e-4},{"x":980,"s":"CC400T","y":1.1e-4},{"x":983,"s":"CC400T","y":1.3e-4},{"x":986,"s":"CC400T","y":1.1e-4},{"x":988,"s":"CC400T","y":1.9e-4},{"x":991,"s":"CC400T","y":2.4e-4},{"x":993.6,"s":"CC400T","y":2.6e-4},{"x":995,"s":"CC400T","y":2.1e-4},{"x":998,"s":"CC400T","y":1.5e-4},{"x":1000,"s":"CC400T","y":1.2e-4},{"x":1002,"s":"CC400T","y":0.55e-4},{"x":1004,"s":"CC400T","y":0.9e-4},{"x":1007,"s":"CC400T","y":0.25e-4},{"x":1008,"s":"CC400T","y":0.7e-4},{"x":1009,"s":"CC400T","y":-0.6e-4},{"x":1011,"s":"CC400T","y":-1.4e-4},{"x":1013.7,"s":"CC400T","y":-2.1e-4},{"x":1015.7,"s":"CC400T","y":-1.8e-4},{"x":1017.6,"s":"CC400T","y":-1.4e-4},{"x":1019.6,"s":"CC400T","y":-1.6e-4},{"x":1022,"s":"CC400T","y":-1.2e-4},{"x":1025,"s":"CC400T","y":0.06e-4},{"x":1026.6,"s":"CC400T","y":-0.7e-4},{"x":1029,"s":"CC400T","y":-1.2e-4},{"x":1031,"s":"CC400T","y":-0.9e-4},{"x":1033,"s":"CC400T","y":-0.6e-4},{"x":1035,"s":"CC400T","y":-0.1e-4},{"x":1036.7,"s":"CC400T","y":-0.7e-4},{"x":1038.5,"s":"CC400T","y":-0.4e-4},{"x":1040.6,"s":"CC400T","y":-1.0e-4},{"x":1042.7,"s":"CC400T","y":-1.4e-4},{"x":1045,"s":"CC400T","y":-2.0e-4},{"x":1047,"s":"CC400T","y":-2.4e-4},{"x":1048.7,"s":"CC400T","y":-2.75e-4},{"x":1050.5,"s":"CC400T","y":-2.0e-4},{"x":1052,"s":"CC400T","y":-1.4e-4},{"x":1054.6,"s":"CC400T","y":-0.6e-4},{"x":1057,"s":"CC400T","y":0.06e-4},{"x":1059,"s":"CC400T","y":0.55e-4},{"x":1061,"s":"CC400T","y":0.7e-4},{"x":1063,"s":"CC400T","y":1.3e-4},{"x":1065.4,"s":"CC400T","y":2.4e-4},{"x":1067.5,"s":"CC400T","y":2.4e-4},{"x":1069.6,"s":"CC400T","y":1.5e-4},{"x":1072,"s":"CC400T","y":-0.4e-4},{"x":1074.4,"s":"CC400T","y":-1.8e-4},{"x":1076,"s":"CC400T","y":-2.4e-4},{"x":1077.4,"s":"CC400T","y":-3.7e-4},{"x":1079.5,"s":"CC400T","y":-2.9e-4},{"x":1081.6,"s":"CC400T","y":-2.1e-4},{"x":1084,"s":"CC400T","y":-1.4e-4},{"x":1086,"s":"CC400T","y":-0.4e-4},{"x":1088,"s":"CC400T","y":1.3e-4},{"x":1090,"s":"CC400T","y":2.75e-4},{"x":1091.5,"s":"CC400T","y":3.3e-4},{"x":1093.5,"s":"CC400T","y":3.0e-4},{"x":1095.4,"s":"CC400T","y":2.6e-4},{"x":1098.4,"s":"CC400T","y":0.5e-4},{"x":1100.3,"s":"CC400T","y":-1.2e-4},{"x":1102.5,"s":"CC400T","y":-3.5e-4},{"x":1104,"s":"CC400T","y":-4.5e-4},{"x":1106,"s":"CC400T","y":-3.5e-4},{"x":1108,"s":"CC400T","y":-4.4e-4},{"x":1110.4,"s":"CC400T","y":-3.5e-4},{"x":1113,"s":"CC400T","y":-3.1e-4},{"x":1116,"s":"CC400T","y":-2.0e-4},{"x":1119,"s":"CC400T","y":-1.2e-4},{"x":1122,"s":"CC400T","y":0.25e-4},{"x":1123.5,"s":"CC400T","y":1.1e-4},{"x":1125,"s":"CC400T","y":0.7e-4},{"x":1128,"s":"CC400T","y":1.9e-4},{"x":1130,"s":"CC400T","y":3.4e-4},{"x":1132,"s":"CC400T","y":5.0e-4},{"x":1134,"s":"CC400T","y":4.4e-4},{"x":1136.3,"s":"CC400T","y":4.25e-4},{"x":1138.4,"s":"CC400T","y":3.8e-4},{"x":1140,"s":"CC400T","y":2.6e-4},{"x":1142.3,"s":"CC400T","y":0.9e-4},{"x":1144.4,"s":"CC400T","y":-0.75e-4},{"x":1147,"s":"CC400T","y":-1.8e-4},{"x":1149,"s":"CC400T","y":-2.0e-4},{"x":1151,"s":"CC400T","y":-2.0e-4},{"x":1153.7,"s":"CC400T","y":-1.4e-4},{"x":1156,"s":"CC400T","y":-0.6e-4},{"x":1159,"s":"CC400T","y":-0.4e-4},{"x":1161,"s":"CC400T","y":0.06e-4},{"x":1164,"s":"CC400T","y":1.1e-4},{"x":1167,"s":"CC400T","y":0.7e-4},{"x":1169,"s":"CC400T","y":0.06e-4},{"x":1171,"s":"CC400T","y":0.5e-4},{"x":1173,"s":"CC400T","y":1.3e-4},{"x":1175,"s":"CC400T","y":0.9e-4},{"x":1177,"s":"CC400T","y":1.2e-4},{"x":1179,"s":"CC400T","y":1.3e-4},{"x":1181,"s":"CC400T","y":1.75e-4},{"x":1183,"s":"CC400T","y":-0.1e-4},{"x":1185,"s":"CC400T","y":0.7e-4},{"x":1187,"s":"CC400T","y":0.06e-4},{"x":1190,"s":"CC400T","y":0.7e-4},{"x":1192,"s":"CC400T","y":-0.1e-4},{"x":1195.5,"s":"CC400T","y":1.75e-4},{"x":1197.6,"s":"CC400T","y":1.1e-4},{"x":1199,"s":"CC400T","y":0.9e-4},{"x":1200,"s":"CC400T","y":0.06e-4}
]},
"mark":{"type":"line","strokeWidth":3.5,"strokeJoin":"round","strokeCap":"round"},
"encoding":{
"x":{"field":"x","type":"quantitative","scale":{"domain":[900,1200],"nice":false,"zero":false},
"axis":{"values":[900,925,950,975,1000,1025,1050,1075,1100,1125,1150,1175,1200],"format":"d","ticks":false,"domain":false,"grid":false,"labelFont":"Liberation Serif","labelFontSize":24,"labelColor":"#000000","labelPadding":23,"labelFlush":false,"title":"cm⁻¹","titleFont":"Liberation Serif","titleFontSize":24,"titleFontWeight":"normal","titleColor":"#000000","titleX":493,"titleY":5,"titleBaseline":"middle"}},
"y":{"field":"y","type":"quantitative","scale":{"domain":[-0.0015,0.001],"nice":false},
"axis":{"values":[-0.0015,-0.001,-0.0005,0,0.0005,0.001],"labelExpr":"replace(toString(datum.value),'.',',')","ticks":false,"domain":true,"domainColor":"#bfbfbf","domainWidth":1.5,"grid":false,"labelFont":"Liberation Serif","labelFontSize":28,"labelColor":"#000000","labelPadding":29,"title":"Absorbance","titleFont":"Liberation Serif","titleFontSize":28,"titleFontWeight":"normal","titleColor":"#000000","titleX":-132,"titleY":159,"titleAngle":-90,"titleBaseline":"middle","titleAlign":"center"}},
"color":{"field":"s","type":"nominal","sort":null,
"scale":{"domain":["2935N-","CC400N-","2935Or","CC400Or","2935PS","CC400PS","2935T","CC400T"],"range":["#00b050","#92d050","#ff0000","#c0504d","#243f60","#4f81bd","#000000","#632523"]},
"legend":{"values":["2935N-","CC400N-","2935Or","CC400Or","2935PS","CC400PS","2935T"],"title":null,"orient":"none","legendX":852,"legendY":-106,"symbolType":"M-2,0H2","symbolStrokeWidth":4,"symbolSize":729,"labelFont":"Liberation Serif","labelFontSize":31,"labelColor":"#000000","labelOffset":16,"rowPadding":2,"labelLimit":300}}
}}
]}
